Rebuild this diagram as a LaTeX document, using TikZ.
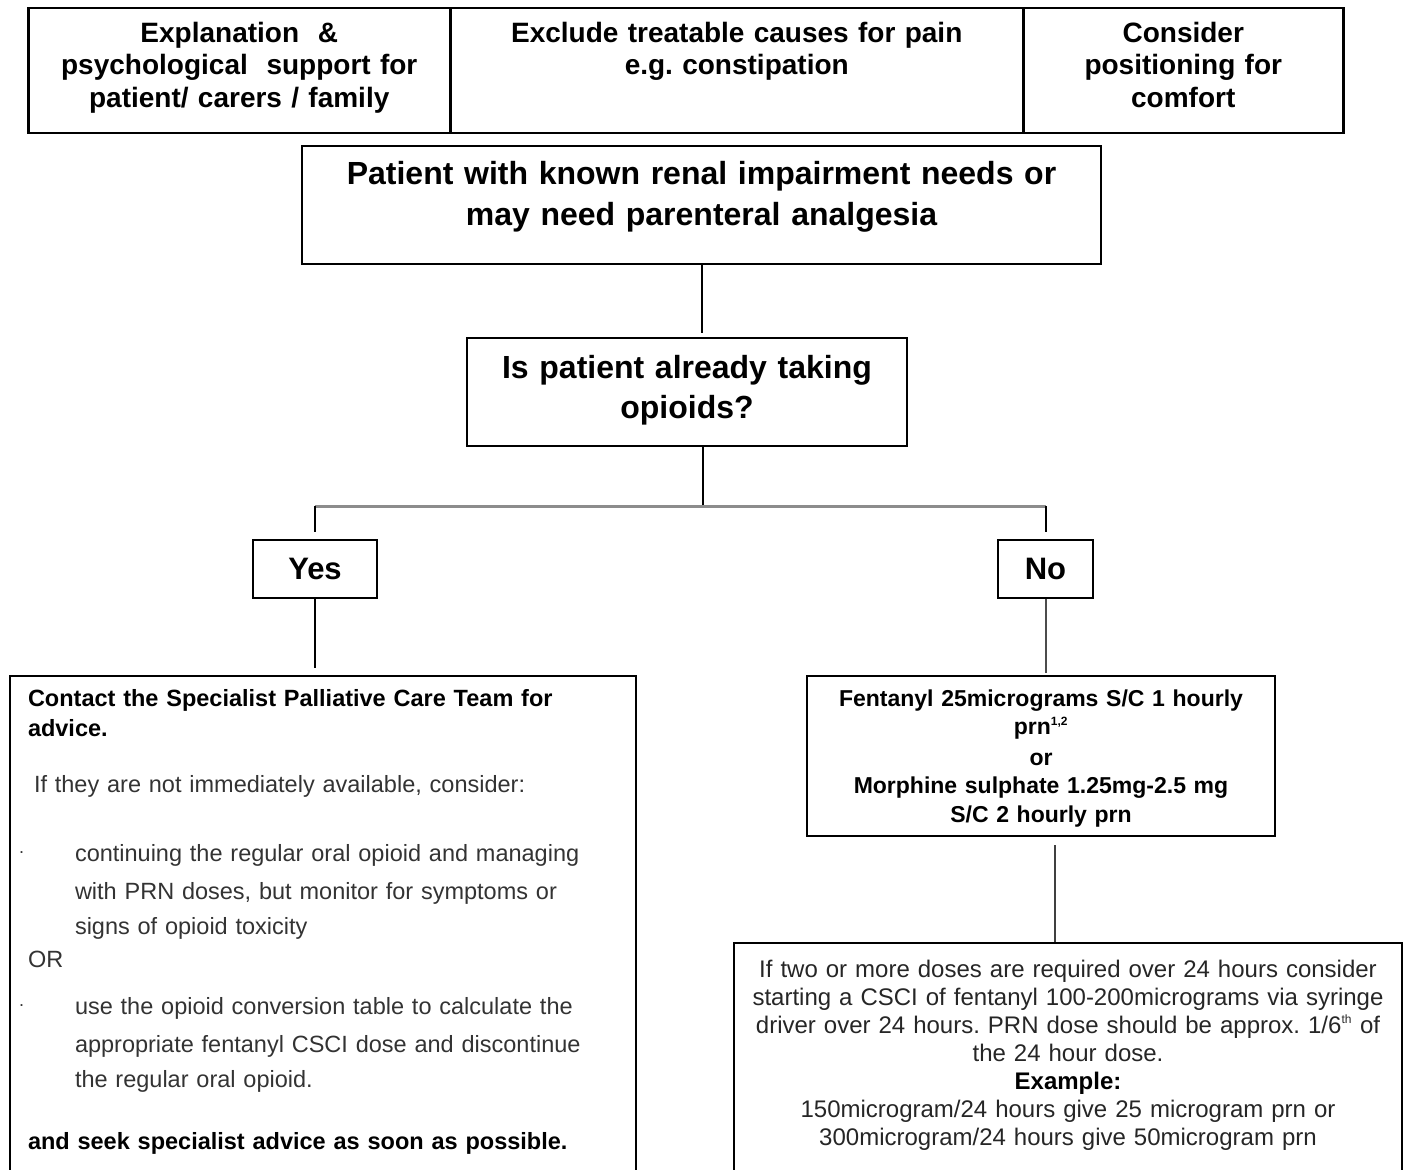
\documentclass[tikz,border=0pt]{standalone}
\usepackage{fontspec}
\setmainfont{Liberation Sans}
\usetikzlibrary{positioning}
\frenchspacing

\newcommand{\dotmark}{\makebox[0pt][r]{\raisebox{8pt}{\fontsize{18}{18}\selectfont .}\hspace{4pt}}}

\tikzset{
	cell/.style={draw, line width=2pt, align=center, inner xsep=8pt, inner ysep=8pt},
	link/.style={line width=2pt},
	branch/.style={line width=3pt, gray!90},
}

\begin{document}
\begin{tikzpicture}[x=1pt, y=-1pt]
	\useasboundingbox (0,0) rectangle (1407,1169);
	\clip (0,0) rectangle (1407,1169);

	% top row of general measures
	\foreach[count=\i] \cx/\tw/\ctext in {27/406/{Explanation \ \&\\psychological \ support for\\patient/ carers / family}, 449/557/{Exclude treatable causes for pain\\e.g. constipation}, 1022/304/{Consider\\positioning for\\comfort}} {
		\node[cell, anchor=north west, line width=2.5pt, text width=\tw pt, inner ysep=7pt, text height=27pt, text depth=84pt, font=\bfseries\fontsize{28}{32.5}\selectfont] (top-\i) at (\cx,7) {\ctext};
	}

	\node[cell, anchor=north, text width=783pt, text height=31pt, text depth=71pt, font=\bfseries\fontsize{32}{40}\selectfont] (renal) at (701.5,145) {Patient with known renal impairment needs or\\may need parenteral analgesia};
	\node[cell, anchor=north, text width=424pt, text height=32pt, text depth=60pt, font=\bfseries\fontsize{32}{40}\selectfont] (opioids) at (687,337) {Is patient already taking\\opioids?};

	\node[cell, minimum width=124pt, minimum height=58pt, font=\bfseries\fontsize{31}{36}\selectfont] (yes) at (315,569) {Yes};
	\node[cell, minimum width=95pt, minimum height=58pt, font=\bfseries\fontsize{31}{36}\selectfont] (no) at (1045.5,569) {No};

	\node[cell, anchor=north west, align=left, text width=590pt, inner xsep=18pt, text height=22pt, text depth=500pt, font=\fontsize{23.5}{37}\selectfont] (advice) at (9,675) {%
		{\bfseries Contact the Specialist Palliative Care Team for\\[-7pt]advice.}\\[19pt]
		\color{black!80}\hspace*{6pt}If they are not immediately available, consider:\\[32pt]
		\dotmark\hspace*{47pt}continuing the regular oral opioid and managing\\[1pt]
		\hspace*{47pt}with PRN doses, but monitor for symptoms or\\[-2pt]
		\hspace*{47pt}signs of opioid toxicity\\[-4pt]
		OR\\[10pt]
		\dotmark\hspace*{47pt}use the opioid conversion table to calculate the\\[1pt]
		\hspace*{47pt}appropriate fentanyl CSCI dose and discontinue\\[-2pt]
		\hspace*{47pt}the regular oral opioid.\\[25pt]
		{\color{black}\bfseries and seek specialist advice as soon as possible.}};

	\node[cell, anchor=north, text width=452pt, text height=22pt, text depth=122pt, font=\bfseries\fontsize{23}{28.5}\selectfont] (fentanyl) at (1041,675) {Fentanyl 25micrograms S/C 1 hourly\\prn\textsuperscript{\fontsize{12}{12}\selectfont 1,2}\\[2pt]or\\Morphine sulphate 1.25mg-2.5 mg\\S/C 2 hourly prn};

	\node[cell, anchor=north, text width=652pt, text height=26pt, text depth=300pt, font=\fontsize{24}{28}\selectfont] (csci) at (1068,942) {%
		\color{black!85}If two or more doses are required over 24 hours consider\\
		starting a CSCI of fentanyl 100-200micrograms via syringe\\
		driver over 24 hours. PRN dose should be approx. 1/6\textsuperscript{\fontsize{12}{12}\selectfont th} of\\
		the 24 hour dose.\\
		{\color{black}\bfseries Example:}\\
		150microgram/24 hours give 25 microgram prn or\\
		300microgram/24 hours give 50microgram prn};

	% connectors
	\coordinate (split) at (703,506);
	\draw[link, shorten >=4pt] (renal) -- (renal |- opioids.north);
	\draw[link] (opioids.south -| split) -- (split);
	\draw[branch] (yes.north |- split) -- (no.north |- split);
	\draw[link, shorten >=7pt] (yes.north |- split) -- (yes.north);
	\draw[link, shorten >=7pt] (no.north |- split) -- (no.north);
	\draw[link, shorten >=7pt] (yes) -- (yes |- advice.north);
	\draw[link, gray!60!black, shorten >=2pt] (no) -- (no |- fentanyl.north);
	\draw[link, line width=2.5pt, gray!50!black, shorten <=8pt] ([xshift=14pt]fentanyl.south) -- ([xshift=14pt]fentanyl.south |- csci.north);
\end{tikzpicture}
\end{document}
